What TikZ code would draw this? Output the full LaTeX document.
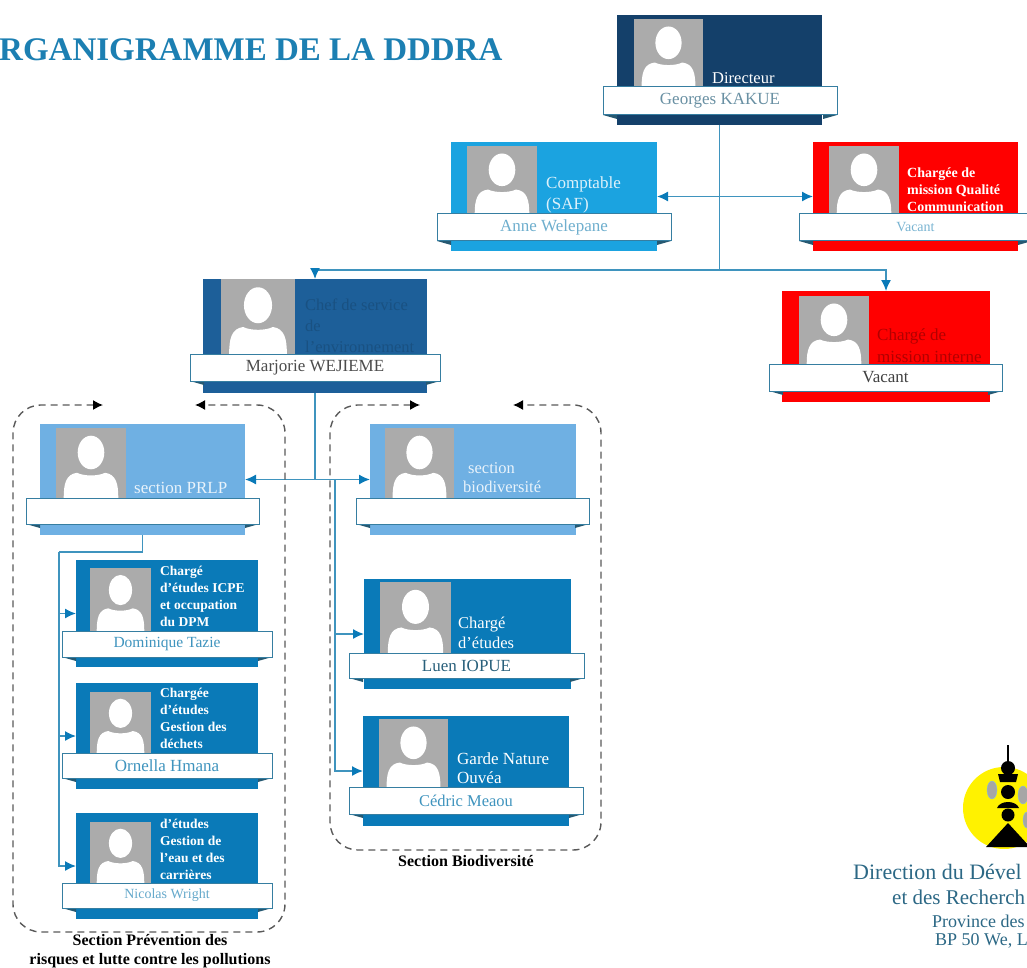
\documentclass[tikz,border=0pt]{standalone}
\usepackage{fontspec}
\setmainfont{Liberation Serif}
\usetikzlibrary{arrows.meta}
\definecolor{dirblue}{HTML}{14406A}
\definecolor{comptblue}{HTML}{1BA3E0}
\definecolor{marjblue}{HTML}{1D5F99}
\definecolor{secblue}{HTML}{6FB0E3}
\definecolor{staffblue}{HTML}{0A7AB8}
\definecolor{flowblue}{HTML}{3F94BE}
\definecolor{titleblue}{HTML}{1C7FB2}
\begin{document}
\begin{tikzpicture}[x=1pt,y=-1pt]
                \tikzstyle{card}=[draw=none,inner sep=0pt,outer sep=0pt]
                \tikzstyle{banner}=[draw=flowblue!85!black,fill=white,line width=1pt,inner sep=0pt,outer sep=0pt]
                \tikzstyle{cardtext}=[anchor=west,align=left,inner sep=0pt]
                \tikzstyle{caption}=[align=center,inner sep=0pt,text=black]
                \tikzstyle{flow}=[draw=flowblue,line width=1.5pt,>={Latex[length=11pt,width=10pt,color=staffblue]}]
                \tikzstyle{frame}=[draw=black!65,line width=1.4pt,dash pattern=on 7pt off 5pt,rounded corners=28pt,>={Latex[length=10pt,width=10pt,color=black]}]
                \useasboundingbox (0,0) rectangle (1027,968);
                \clip (0,0) rectangle (1027,968);

                \node[anchor=west,inner sep=0pt,text=titleblue,font=\fontsize{33}{35}\bfseries\selectfont] (title) at (-1,50) {RGANIGRAMME DE LA DDDRA};

                % colour block with the grey photo
                \foreach \num/\xa/\ya/\xb/\yb/\col/\pa/\pb/\pt/\pd in {dir/617/15/822/125/dirblue/634/703/19/87,
                        compt/451/142/657/251/comptblue/467/537/146/214, qual/813/142/1018/251/red/829/899/146/214,
                        vac/782/291/990/402/red/799/869/296/364, marj/203/279/427/393/marjblue/221/295/279/354,
                        prlp/40/424/245/535/secblue/56/126/428/498, biod/370/424/576/535/secblue/385/454/428/498,
                        dom/76/560/258/667/staffblue/90/151/568/631, orn/76/683/258/789/staffblue/90/151/692/753,
                        nic/76/813/258/919/staffblue/90/151/822/883, luen/364/579/571/689/staffblue/380/451/582/653,
                        ced/363/716/569/826/staffblue/379/448/719/787}{
                    \node[card,fill=\col,minimum width={(\xb-\xa)*1pt},minimum height={(\yb-\ya)*1pt}] (C-\num) at ({(\xa+\xb)/2},{(\ya+\yb)/2}) {};
                    \fill[black!33] (\pa,\pt) rectangle (\pb,\pd);
                    \begin{scope}[shift={(\pa,\pt)},xscale={(\pb-\pa)/100},yscale={(\pd-\pt)/100}]
                        \fill[white] (50,35) ellipse (19 and 24);
                        \fill[white] (11,100) .. controls (11,80) and (14,66) .. (30,64) .. controls (40,69) and (60,69) .. (70,64) .. controls (86,66) and (89,80) .. (89,100) -- cycle;
                    \end{scope}
                }

                % job titles
                \foreach \num/\x/\y/\txt/\col/\sz/\ls in {dir/712/78/Directeur/white/16.5/18,
                        compt/546/195/{Comptable\\(SAF)}/white!85!comptblue/17/21,
                        qual/907/190/{\textbf{Chargée de}\\\textbf{mission Qualité}\\\textbf{Communication}}/white/14/17,
                        vac/877/346/{Chargé de\\mission interne}/red!70!black/17/22,
                        marj/305/326/{Chef de service\\de\\l'environnement}/marjblue!85!black/16.5/21,
                        prlp/134/488/section PRLP/white!85!secblue/17/19,
                        biod/463/478/{\hspace{5pt}section\\biodiversité}/white!85!secblue/16.5/19,
                        dom/160/596/{\textbf{Chargé}\\\textbf{d'études ICPE}\\\textbf{et occupation}\\\textbf{du DPM}}/white/13.5/17,
                        orn/160/718/{\textbf{Chargée}\\\textbf{d'études}\\\textbf{Gestion des}\\\textbf{déchets}}/white/13.5/17,
                        nic/160/849/{\textbf{d'études}\\\textbf{Gestion de}\\\textbf{l'eau et des}\\\textbf{carrières}}/white/13.5/17,
                        luen/458/633/{Chargé\\d'études}/white/16.5/20,
                        ced/457/768/{Garde Nature\\Ouvéa}/white/17/19}
                    \node[cardtext,text=\col,font=\fontsize{\sz}{\ls}\selectfont] (T-\num) at (\x,\y) {\txt};

                % white ribbons with the names
                \foreach \num/\ba/\bt/\bb/\bd/\who/\col/\sz in {dir/603/87/837/115/Georges KAKUE/black!35!flowblue!70/17,
                        compt/437/214/671/241/Anne Welepane/flowblue!75/17, qual/799/214/1032/241/Vacant/flowblue!70/14,
                        vac/769/364/1002/391/Vacant/black!75/17, marj/190/354/440/381/Marjorie WEJIEME/black!70/17,
                        prlp/26/498/259/524/{}/white/14, biod/356/498/589/524/{}/white/14,
                        dom/62/631/272/657/Dominique Tazie/flowblue/15.5, orn/62/753/272/778/Ornella Hmana/flowblue/17,
                        nic/62/883/272/908/Nicolas Wright/flowblue!80/14, luen/349/653/584/678/Luen IOPUE/black!35!flowblue/17,
                        ced/349/787/583/814/Cédric Meaou/flowblue/16.5}{
                    \fill[black!40!flowblue] (\ba,\bd) -- (\ba+14,\bd) -- (\ba+14,\bd+4) -- cycle;
                    \fill[black!40!flowblue] (\bb,\bd) -- (\bb-14,\bd) -- (\bb-14,\bd+4) -- cycle;
                    \node[banner,text=\col,font=\fontsize{\sz}{\sz}\selectfont,minimum width={(\bb-\ba)*1pt},minimum height={(\bd-\bt)*1pt}] (B-\num) at ({(\ba+\bb)/2},{(\bt+\bd)/2}) {\who};
                }

                \coordinate (J-dir) at (719.5,270);
                \coordinate (J-marj) at (315,479.5);
                \coordinate (J-bio) at (335,479.5);
                \coordinate (J-prlp) at (142.5,552);
                \coordinate (J-staff) at (59,552);

                \draw[flow] (C-dir) -- (J-dir);
                \draw[flow,<->] (C-compt) -- (C-qual);
                \draw[flow,->] (J-dir) -| (C-marj);
                \draw[flow,->] (J-dir) -| (C-vac);
                \draw[flow] (C-marj) -- (J-marj);
                \draw[flow,<->] (C-prlp) -- (C-biod);
                \draw[flow] (C-prlp) -- (J-prlp) -- (J-staff);
                \foreach \to in {dom, orn, nic}
                    \draw[flow,->] (J-staff) |- (C-\to);
                \foreach \to in {luen, ced}
                    \draw[flow,->] (J-bio) |- (C-\to);

                % dashed section frames, open at the top
                \draw[frame,<->] (103,405) -- (13,405) -- (13,932) -- (285,932) -- (285,405) -- (195,405);
                \draw[frame,<->] (420,405) -- (330,405) -- (330,850) -- (601,850) -- (601,405) -- (513,405);

                \node[caption,font=\fontsize{16}{19}\bfseries\selectfont] (cap-prlp) at (150,951) {Section Prévention des\\risques et lutte contre les pollutions};
                \node[caption,font=\fontsize{16}{18}\bfseries\selectfont] (cap-biod) at (466,861) {Section Biodiversité};

                % logo
                \fill[yellow] (1004,808) circle (41);
                \fill[black!35,draw=flowblue!60] (992,790) ellipse (5 and 9);
                \fill[black!35,draw=flowblue!60] (1023,795) ellipse (5 and 9);
                \fill[black!35,draw=flowblue!60] (1027,820) ellipse (4 and 8);
                \draw[black,line width=1.4pt] (1008,745) -- (1008,762);
                \fill[black] (1008,768) circle (7);
                \fill[black] (998,774) -- (1018,774) -- (1016,782) -- (1000,782) -- cycle;
                \fill[black] (1008,792) circle (7);
                \fill[black] (997,808) .. controls (1000,800) and (1016,800) .. (1019,808) -- cycle;
                \fill[black] (1008,815) circle (6.5);
                \fill[black] (1008,823) -- (1030,847) -- (986,847) -- cycle;

                \node[anchor=west,inner sep=0pt,text=flowblue!70!black,font=\fontsize{22}{22}\selectfont] (dir-a) at (853,872) {Direction du Dével};
                \node[anchor=west,inner sep=0pt,text=flowblue!70!black,font=\fontsize{21}{21}\selectfont] (dir-b) at (892,897) {et des Recherch};
                \node[anchor=west,inner sep=0pt,text=flowblue!70!black,font=\fontsize{18}{18}\selectfont] (dir-c) at (932,921) {Province des};
                \node[anchor=west,inner sep=0pt,text=flowblue!70!black,font=\fontsize{18}{18}\selectfont] (dir-d) at (935,941) {BP 50 We, L};
            \end{tikzpicture}
\end{document}
